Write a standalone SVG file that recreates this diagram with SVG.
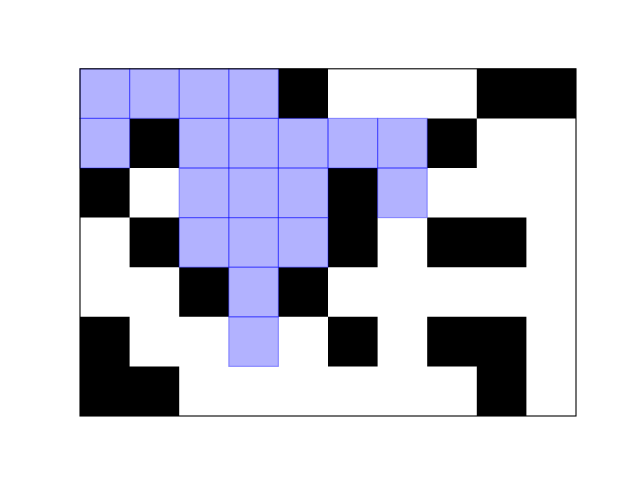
<svg xmlns="http://www.w3.org/2000/svg" width="640" height="480" viewBox="0 0 640 480">
<style>
.k{fill:#000}
.b{fill:blue;fill-opacity:0.3;stroke:blue;stroke-opacity:0.35;stroke-width:1.2}
</style>
<rect width="640" height="480" fill="#fff"/>
<g id="black">
<path class="k" d="M278.4 68.8h49.6v49.6h-49.6z M476.8 68.8h99.2v49.6h-99.2z M129.6 118.4h49.6v49.6h-49.6z M427.2 118.4h49.6v49.6h-49.6z M80 168h49.6v49.6h-49.6z M328 168h49.6v99.2h-49.6z M129.6 217.6h49.6v49.6h-49.6z M427.2 217.6h99.2v49.6h-99.2z M179.2 267.2h49.6v49.6h-49.6z M278.4 267.2h49.6v49.6h-49.6z M80 316.8h49.6v49.6h49.6v49.6h-99.2z M328 316.8h49.6v49.6h-49.6z M427.2 316.8h99.2v49.6h-99.2z M476.8 366.4h49.6v49.6h-49.6z"/>
</g>
<g id="path">
<rect class="b" x="80" y="68.8" width="49.6" height="49.6"/>
<rect class="b" x="129.6" y="68.8" width="49.6" height="49.6"/>
<rect class="b" x="179.2" y="68.8" width="49.6" height="49.6"/>
<rect class="b" x="228.8" y="68.8" width="49.6" height="49.6"/>
<rect class="b" x="80" y="118.4" width="49.6" height="49.6"/>
<rect class="b" x="179.2" y="118.4" width="49.6" height="49.6"/>
<rect class="b" x="228.8" y="118.4" width="49.6" height="49.6"/>
<rect class="b" x="278.4" y="118.4" width="49.6" height="49.6"/>
<rect class="b" x="328" y="118.4" width="49.6" height="49.6"/>
<rect class="b" x="377.6" y="118.4" width="49.6" height="49.6"/>
<rect class="b" x="179.2" y="168" width="49.6" height="49.6"/>
<rect class="b" x="228.8" y="168" width="49.6" height="49.6"/>
<rect class="b" x="278.4" y="168" width="49.6" height="49.6"/>
<rect class="b" x="377.6" y="168" width="49.6" height="49.6"/>
<rect class="b" x="179.2" y="217.6" width="49.6" height="49.6"/>
<rect class="b" x="228.8" y="217.6" width="49.6" height="49.6"/>
<rect class="b" x="278.4" y="217.6" width="49.6" height="49.6"/>
<rect class="b" x="228.8" y="267.2" width="49.6" height="49.6"/>
<rect class="b" x="228.8" y="316.8" width="49.6" height="49.6"/>
</g>
<rect id="frame" x="80" y="68.8" width="496" height="347.2" fill="none" stroke="#000" stroke-width="1.1"/>
</svg>
